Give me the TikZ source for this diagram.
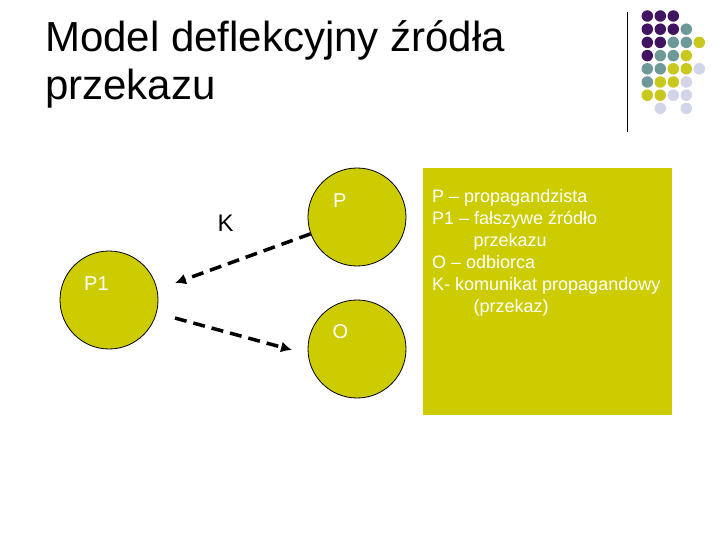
\documentclass[tikz,border=0pt]{standalone}
\usepackage{fontspec}
\setmainfont{Liberation Sans}
\usetikzlibrary{arrows.meta}
\definecolor{olive}{HTML}{CCCC00}
\definecolor{dpurple}{HTML}{401460}
\definecolor{dteal}{HTML}{6E9999}
\definecolor{dyellow}{HTML}{C8C81E}
\definecolor{dlav}{HTML}{D4D4E8}
\tikzset{
  ball/.style={circle, draw=black, line width=0.8pt, fill=olive, minimum size=98pt, inner sep=0pt},
  lbl/.style={anchor=base west, inner sep=0pt, text=white, font=\fontsize{20}{24}\selectfont},
  legtxt/.style={anchor=base west, inner sep=0pt, text=white, font=\fontsize{18}{22}\selectfont},
  ttl/.style={anchor=base west, inner sep=0pt, font=\fontsize{42}{48}\selectfont},
  arr/.style={line width=3.5pt, dash pattern=on 12pt off 7pt, -{Latex[length=11pt,width=11pt]}},
  dot/.style={circle, inner sep=0pt, minimum size=11.5pt},
}
\begin{document}
\begin{tikzpicture}[x=1pt,y=-1pt]
\useasboundingbox (0,0) rectangle (720,540);
% title
\node[ttl] (t1) at (45,51.7) {Model deflekcyjny źródła};
\node[ttl] (t2) at (45,99.3) {przekazu};
% decoration
\draw[line width=1pt] (627,12) -- (627,132);
\foreach \row/\cols in {
  0/{1/dpurple,2/dpurple,3/dpurple},
  1/{1/dpurple,2/dpurple,3/dpurple,4/dteal},
  2/{1/dpurple,2/dpurple,3/dteal,4/dteal,5/dyellow},
  3/{1/dpurple,2/dteal,3/dteal,4/dyellow},
  4/{1/dteal,2/dteal,3/dyellow,4/dyellow,5/dlav},
  5/{1/dteal,2/dyellow,3/dyellow,4/dlav},
  6/{1/dyellow,2/dyellow,3/dlav,4/dlav},
  7/{2/dlav,4/dlav}} {
  \foreach \c/\col in \cols {
    \node[dot, fill=\col] (d\row\c) at ({647.3+13*(\c-1)},{16+13.2*\row}) {};
  }
}
% legend box
\node[fill=olive, minimum width=249pt, minimum height=247pt, inner sep=0pt, anchor=north west] (box) at (423,168) {};
\node[legtxt] (l1) at (432,203) {P – propagandzista};
\node[legtxt] (l2) at (432,225) {P1 – fałszywe źródło};
\node[legtxt] (l3) at (473.3,246.7) {przekazu};
\node[legtxt] (l4) at (432,268.5) {O – odbiorca};
\node[legtxt] (l5) at (432,290.3) {K- komunikat propagandowy};
\node[legtxt] (l6) at (473.3,312) {(przekaz)};
% circles
\node[ball] (P) at (357,217) {};
\node[ball] (P1) at (109,300) {};
\node[ball] (O) at (357,349) {};
\node[lbl] (lP) at (333,207.7) {P};
\node[lbl] (lP1) at (84,290) {P1};
\node[lbl] (lO) at (332.5,338) {O};
\node[anchor=base west, inner sep=0pt, font=\fontsize{24}{28}\selectfont] (K) at (217.5,231.7) {K};
% arrows
\coordinate (k1e) at (175,283);
\coordinate (k2e) at (292,350);
\draw[arr] (P) -- (k1e);
\draw[arr, shorten <=19pt] (P1) -- (k2e);
\end{tikzpicture}
\end{document}
